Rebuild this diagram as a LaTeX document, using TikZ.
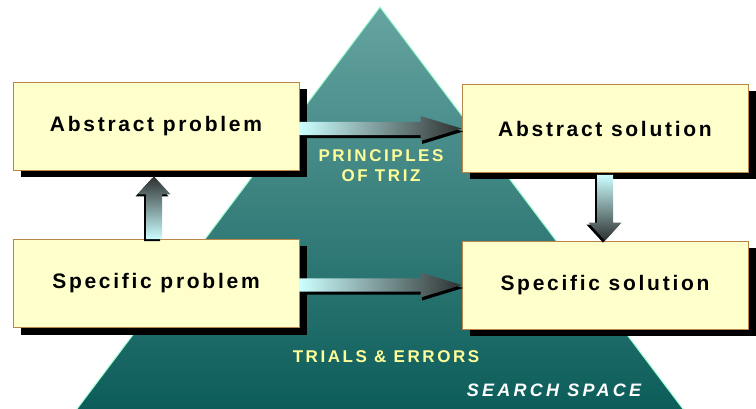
\documentclass[tikz,border=0pt]{standalone}
\usepackage{fontspec}
\setmainfont{Liberation Sans}
\newfontfamily\boxfont[LetterSpace=13]{Liberation Sans}
\newfontfamily\labfont[LetterSpace=15]{Liberation Sans}
\newfontfamily\ssfont[LetterSpace=18]{Liberation Sans}
\usetikzlibrary{calc,shadows}
\definecolor{boxfill}{RGB}{255,255,204}
\definecolor{boxedge}{RGB}{184,134,75}
\definecolor{tritop}{RGB}{102,164,161}
\definecolor{tribot}{RGB}{12,93,90}
\definecolor{triedge}{RGB}{160,255,208}
\definecolor{arrlight}{RGB}{204,255,255}
\definecolor{arrdark}{RGB}{45,48,48}
\definecolor{labyellow}{RGB}{255,255,153}
% horizontal block arrow: #1 start anchor, #2 tip anchor
\newcommand\hblockarrow[2]{%
  \fill[black] ($(#1 |- #2)+(1.5,-6.7+3)$) -- ($(#2)+(-41+1.5,-6.7+3)$) -- ($(#2)+(-41+1.5,-12.5+3)$) -- ($(#2)+(1.5,3)$) -- ($(#2)+(-41+1.5,12.5+3)$) -- ($(#2)+(-41+1.5,6.7+3)$) -- ($(#1 |- #2)+(1.5,6.7+3)$) -- cycle;
  \shade[left color=arrlight,right color=arrdark] ($(#1 |- #2)+(0,-6.7)$) -- ($(#2)+(-41,-6.7)$) -- ($(#2)+(-41,-12.5)$) -- (#2) -- ($(#2)+(-41,12.5)$) -- ($(#2)+(-41,6.7)$) -- ($(#1 |- #2)+(0,6.7)$) -- cycle;
}
% vertical block arrow: #1 start anchor, #2 tip, #3 sign (1 down, -1 up), #4 top colour, #5 bottom colour
\newcommand\vblockarrow[5]{%
  \fill[black] ($(#2 |- #1)+(-8-2,2)$) -- ($(#2)+(-8-2,-18*#3+2)$) -- ($(#2)+(-16.5-2,-18*#3+2)$) -- ($(#2)+(-2,2)$) -- ($(#2)+(16.5-2,-18*#3+2)$) -- ($(#2)+(8-2,-18*#3+2)$) -- ($(#2 |- #1)+(8-2,2)$) -- cycle;
  \shade[top color=#4,bottom color=#5] ($(#2 |- #1)+(-8,0)$) -- ($(#2)+(-8,-18*#3)$) -- ($(#2)+(-16.5,-18*#3)$) -- (#2) -- ($(#2)+(16.5,-18*#3)$) -- ($(#2)+(8,-18*#3)$) -- ($(#2 |- #1)+(8,0)$) -- cycle;
}
\begin{document}
\begin{tikzpicture}[x=1pt,y=-1pt,
  probox/.style={draw=boxedge,line width=0.8pt,fill=boxfill,minimum width=286pt,minimum height=88pt,inner sep=0pt,
    font=\boxfont\bfseries\fontsize{21}{25}\selectfont,
    drop shadow={shadow xshift=8pt,shadow yshift=-7pt,fill=black,opacity=1}},
  lab/.style={text=labyellow,font=\labfont\bfseries\fontsize{17}{20}\selectfont,inner sep=0pt,align=center}
]
\useasboundingbox (0,0) rectangle (756,409);
% search-space pyramid
\coordinate (apex) at (380,7);
\coordinate (bl) at (77,409);
\coordinate (br) at (683,409);
\shade[top color=tritop,bottom color=tribot] (apex) -- (br) -- (bl) -- cycle;
\draw[triedge,line width=1pt] (bl) -- (apex) -- (br);
% labels
\node[lab,anchor=north] (triz) at (381,149) {PRINCIPLES\\OF TRIZ};
\node[lab,anchor=base] (trials) at (386,362) {TRIALS \& ERRORS};
\node[anchor=base,inner sep=0pt,text=white,font=\ssfont\bfseries\itshape\fontsize{18}{20}\selectfont] (space) at (554,396) {SEARCH SPACE};
% boxes
\node[probox] (ap) at (156,126) {Abstract problem};
\node[probox] (as) at (605,128.5) {Abstract solution};
\node[probox] (sp) at (156,283.5) {Specific problem};
\node[probox] (ss) at (605,285) {Specific solution};
% arrows
\hblockarrow{ap.east}{as.west}
\hblockarrow{sp.east}{ss.west}
\coordinate (uptip) at ($(ap.south)+(-2,6)$);
\vblockarrow{sp.north}{uptip}{-1}{arrdark}{arrlight}
\coordinate (downstart) at ($(as.south)+(0,2)$);
\vblockarrow{downstart}{ss.north}{1}{arrlight}{arrdark}
\end{tikzpicture}
\end{document}
